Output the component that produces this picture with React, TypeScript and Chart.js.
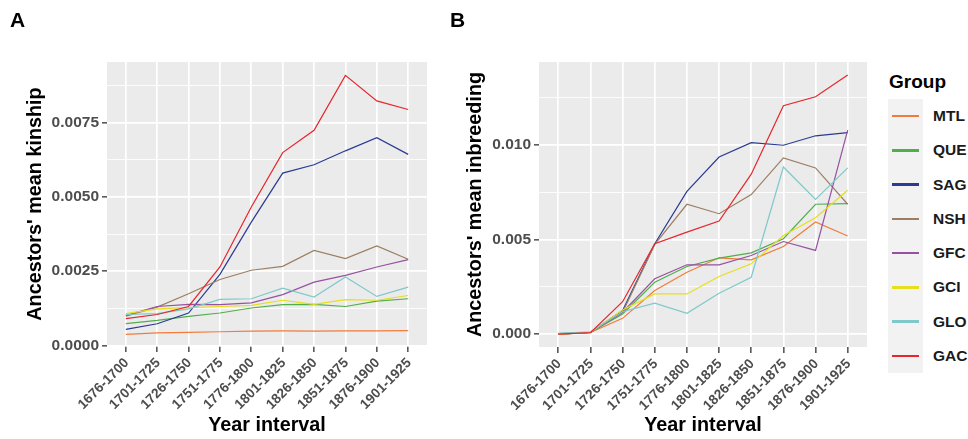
import React, { useEffect, useRef } from "react";
import { Chart, registerables } from "chart.js";

Chart.register(...registerables);

const categories = [
  "1676-1700", "1701-1725", "1726-1750", "1751-1775", "1776-1800",
  "1801-1825", "1826-1850", "1851-1875", "1876-1900", "1901-1925",
];

const groups = ["MTL", "QUE", "SAG", "NSH", "GFC", "GCI", "GLO", "GAC"];
const groupColors = ["#F27B3B", "#52AE4B", "#2B3A92", "#9C7E62", "#9751A1", "#E6DF1C", "#7FC9CA", "#E6262C"];

// Panel A: ancestors' mean kinship
const kinshipMTL = [0.00037, 0.00042, 0.00044, 0.00046, 0.00048, 0.00049, 0.00048, 0.00049, 0.00049, 0.0005];
const kinshipQUE = [0.00073, 0.00084, 0.00098, 0.00109, 0.00126, 0.00137, 0.00138, 0.00131, 0.00149, 0.00157];
const kinshipSAG = [0.00054, 0.00073, 0.00109, 0.00239, 0.00415, 0.0058, 0.00608, 0.00655, 0.00699, 0.00643];
const kinshipNSH = [0.00098, 0.00129, 0.00174, 0.00222, 0.00253, 0.00266, 0.0032, 0.00292, 0.00335, 0.0029];
const kinshipGFC = [0.00101, 0.00131, 0.00138, 0.00137, 0.00143, 0.00171, 0.00213, 0.00236, 0.00264, 0.00289];
const kinshipGCI = [0.00107, 0.00123, 0.00127, 0.00131, 0.00135, 0.00152, 0.00138, 0.00154, 0.00152, 0.00168];
const kinshipGLO = [0.00104, 0.00107, 0.00123, 0.00155, 0.00157, 0.00193, 0.00163, 0.0023, 0.00165, 0.00196];
const kinshipGAC = [0.0009, 0.00104, 0.00131, 0.00264, 0.00466, 0.00649, 0.00724, 0.00909, 0.00823, 0.00794];

// Panel B: ancestors' mean inbreeding
const inbreedingMTL = [0, 0.00008, 0.00083, 0.0023, 0.00327, 0.00403, 0.00392, 0.00463, 0.00592, 0.00518];
const inbreedingQUE = [0, 0.00008, 0.00106, 0.00274, 0.00357, 0.00401, 0.00429, 0.00504, 0.00686, 0.00689];
const inbreedingSAG = [0.00002, 0.00009, 0.00124, 0.00477, 0.00754, 0.00936, 0.01012, 0.00998, 0.01048, 0.01065];
const inbreedingNSH = [0, 0.00008, 0.00115, 0.00474, 0.00686, 0.00636, 0.00737, 0.00931, 0.00878, 0.00686];
const inbreedingGFC = [0, 0.00008, 0.00115, 0.00292, 0.00366, 0.00366, 0.00415, 0.00489, 0.00442, 0.01078];
const inbreedingGCI = [0, 0.00008, 0.00127, 0.00212, 0.00212, 0.00304, 0.00371, 0.00521, 0.00615, 0.0076];
const inbreedingGLO = [0.00004, 0.00012, 0.00118, 0.00163, 0.0011, 0.00216, 0.003, 0.00883, 0.00712, 0.00878];
const inbreedingGAC = [0, 0.00007, 0.00171, 0.00477, 0.00539, 0.00597, 0.00845, 0.01207, 0.01254, 0.01369];

const kinshipSeries = [kinshipMTL, kinshipQUE, kinshipSAG, kinshipNSH, kinshipGFC, kinshipGCI, kinshipGLO, kinshipGAC];
const inbreedingSeries = [inbreedingMTL, inbreedingQUE, inbreedingSAG, inbreedingNSH, inbreedingGFC, inbreedingGCI, inbreedingGLO, inbreedingGAC];

const kinshipMajorTicks = [0, 0.0025, 0.005, 0.0075];
const kinshipMinorTicks = [0.00125, 0.00375, 0.00625, 0.00875];
const inbreedingMajorTicks = [0, 0.005, 0.01];
const inbreedingMinorTicks = [0.0025, 0.0075, 0.0125];

const FONT = "'Liberation Sans', Arial, Helvetica, sans-serif";

const panelBg = {
  id: "panelBg",
  beforeDraw(chart: any) {
    const { ctx, chartArea } = chart;
    ctx.save();
    ctx.fillStyle = "#EBEBEB";
    ctx.fillRect(chartArea.left, chartArea.top, chartArea.right - chartArea.left, chartArea.bottom - chartArea.top);
    ctx.restore();
  },
};

type PanelProps = {
  left: number;
  width: number;
  series: number[][];
  majors: number[];
  minors: number[];
  decimals: number;
  yMin: number;
  yMax: number;
  yTitle: string;
  yAxisWidth: number;
  rightPad: number;
  xAxisHeight: number;
  yTitlePad: number;
};

function Panel(p: PanelProps) {
  const ref = useRef<HTMLCanvasElement | null>(null);
  useEffect(() => {
    if (!ref.current) return;
    const majorSet = new Set(p.majors.map((v) => v.toFixed(6)));
    const isMajor = (v: number) => majorSet.has(Number(v).toFixed(6));
    const n = groups.length;
    const chart = new Chart(ref.current, {
      type: "line",
      data: {
        datasets: groups.map((g, i) => ({
          label: g,
          data: p.series[i].map((v, k) => ({ x: k, y: v })),
          borderColor: groupColors[i],
          backgroundColor: groupColors[i],
          borderWidth: 1.2,
          pointRadius: 0,
          tension: 0,
          fill: false,
          order: n - i,
        })),
      },
      options: {
        animation: false,
        responsive: false,
        devicePixelRatio: 1,
        layout: { padding: { top: 62, right: p.rightPad, bottom: 0, left: 0 } },
        plugins: { legend: { display: false }, tooltip: { enabled: false }, title: { display: false } },
        scales: {
          x: {
            type: "linear",
            min: -0.6,
            max: categories.length - 1 + 0.6,
            afterBuildTicks: (scale: any) => {
              scale.ticks = categories.map((_, i) => ({ value: i }));
            },
            afterFit: (scale: any) => {
              scale.height = p.xAxisHeight;
            },
            border: { display: false },
            grid: {
              color: "#FFFFFF",
              lineWidth: 1.7,
              drawTicks: true,
              tickLength: 6,
              tickColor: "#333333",
              tickWidth: 1.3,
            },
            ticks: {
              autoSkip: false,
              maxRotation: 45,
              minRotation: 45,
              padding: 3,
              labelOffset: 1,
              color: "#4D4D4D",
              font: { family: FONT, size: 13.7, weight: "bold" },
              callback: (v: any) => categories[Math.round(Number(v))] ?? "",
            },
            title: {
              display: true,
              text: "Year interval",
              color: "#000000",
              font: { family: FONT, size: 19.8, weight: "bold" },
              padding: { top: 0, bottom: 2 },
            },
          },
          y: {
            type: "linear",
            min: p.yMin,
            max: p.yMax,
            afterBuildTicks: (scale: any) => {
              scale.ticks = [...p.majors, ...p.minors].sort((a, b) => a - b).map((v) => ({ value: v }));
            },
            afterFit: (scale: any) => {
              scale.width = p.yAxisWidth;
            },
            border: { display: false },
            grid: {
              color: "#FFFFFF",
              lineWidth: (ctx: any) => (ctx.tick && isMajor(ctx.tick.value) ? 1.7 : 0.85),
              drawTicks: true,
              tickLength: 5,
              tickColor: (ctx: any) => (ctx.tick && isMajor(ctx.tick.value) ? "#333333" : "rgba(0,0,0,0)"),
              tickWidth: 1.3,
            },
            ticks: {
              autoSkip: false,
              padding: 3,
              color: "#4D4D4D",
              font: { family: FONT, size: 15.5, weight: "bold" },
              callback: (v: any) => (isMajor(Number(v)) ? Number(v).toFixed(p.decimals) : ""),
            },
            title: {
              display: true,
              text: p.yTitle,
              color: "#000000",
              font: { family: FONT, size: 19.8, weight: "bold" },
              padding: { top: p.yTitlePad, bottom: 0 },
            },
          },
        },
      } as any,
      plugins: [panelBg],
    });
    return () => chart.destroy();
  }, []);
  return (
    <canvas
      ref={ref}
      width={p.width}
      height={439}
      style={{ position: "absolute", left: p.left, top: 0, width: p.width, height: 439 }}
    />
  );
}

export default function App() {
  const tagStyle: React.CSSProperties = {
    position: "absolute",
    top: 9,
    fontFamily: FONT,
    fontWeight: "bold",
    fontSize: 21,
    lineHeight: "21px",
    color: "#000",
  };
  return (
    <div style={{ position: "absolute", left: 0, top: 0, width: 968, height: 439, background: "#FFFFFF", overflow: "hidden" }}>
      <Panel
        left={0}
        width={440}
        series={kinshipSeries}
        majors={kinshipMajorTicks}
        minors={kinshipMinorTicks}
        decimals={4}
        yMin={-0.00002}
        yMax={0.00954}
        yTitle="Ancestors' mean kinship"
        yAxisWidth={107}
        rightPad={13}
        xAxisHeight={93}
        yTitlePad={23.2}
      />
      <Panel
        left={440}
        width={440}
        series={inbreedingSeries}
        majors={inbreedingMajorTicks}
        minors={inbreedingMinorTicks}
        decimals={3}
        yMin={-0.000685}
        yMax={0.01438}
        yTitle="Ancestors' mean inbreeding"
        yAxisWidth={99}
        rightPad={13}
        xAxisHeight={92}
        yTitlePad={23.6}
      />
      <div style={{ ...tagStyle, left: 10 }}>A</div>
      <div style={{ ...tagStyle, left: 450 }}>B</div>
      <div
        style={{
          position: "absolute",
          left: 889,
          top: 72,
          fontFamily: FONT,
          fontWeight: "bold",
          fontSize: 19,
          lineHeight: "19px",
          color: "#000",
        }}
      >
        Group
      </div>
      <div style={{ position: "absolute", left: 888, top: 99, width: 35, height: 274, background: "#F2F2F2" }} />
      {groups.map((g, i) => (
        <div
          key={g}
          style={{ position: "absolute", left: 888, top: 99 + i * 34.25, height: 34.25, width: 80, display: "flex", alignItems: "center" }}
        >
          <div style={{ marginLeft: 4, width: 27, height: 2.5, background: groupColors[i] }} />
          <div
            style={{
              position: "absolute",
              left: 45,
              fontFamily: FONT,
              fontWeight: "bold",
              fontSize: 15.5,
              lineHeight: "16px",
              color: "#1A1A1A",
            }}
          >
            {g}
          </div>
        </div>
      ))}
    </div>
  );
}
